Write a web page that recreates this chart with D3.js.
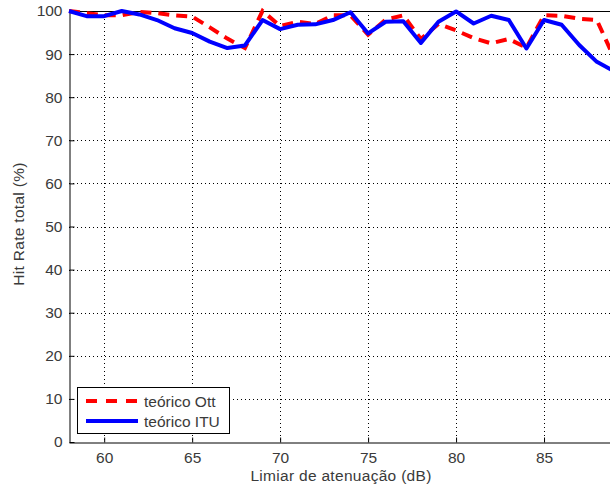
<!DOCTYPE html>
<html><head><meta charset="utf-8">
<script src="https://cdn.jsdelivr.net/npm/d3@7"></script>
<style>body{margin:0;background:#fff}svg{display:block}</style>
</head><body><svg id="c" width="610" height="493"></svg>
<script>
const xValues = [58,59,60,61,62,63,64,65,66,67,68,69,70,71,72,73,74,75,76,77,78,79,80,81,82,83,84,85,86,87,88,89];
const ottValues = [100,99.5,99,99,99.8,99.5,99,98.7,96.2,93.6,91.4,100,96.5,97.5,97,99,99,94.5,98,99,93.5,97,95.5,93.7,92.5,93.5,91.5,99,98.9,98.2,97.9,89];
const ituValues = [100,98.8,98.8,100,99.2,97.9,96,94.9,92.9,91.4,92,97.9,95.8,96.8,96.9,97.9,99.7,94.8,97.5,97.6,92.6,97.5,99.9,97.1,98.9,97.9,91.3,97.9,96.8,92.1,88.2,86];
const xTicks = [60,65,70,75,80,85];
const yTicks = [0,10,20,30,40,50,60,70,80,90,100];
const seriesNames = ["teórico Ott","teórico ITU"];

(function(){
const svg = d3.select("#c");
const L=69, T=11, B=442, R=632;
const x = d3.scaleLinear().domain([58,90]).range([L,R]);
const y = d3.scaleLinear().domain([0,100]).range([B,T]);
const font = "Liberation Sans, Arial, sans-serif";
const fs = 15.5, tc = "#3a3a3a";

const g = svg.append("g");
g.selectAll(".gx").data(xTicks).enter().append("line")
  .attr("x1",d=>Math.round(x(d))+0.5).attr("x2",d=>Math.round(x(d))+0.5)
  .attr("y1",T).attr("y2",B)
  .attr("stroke","#000").attr("stroke-width",1).attr("stroke-dasharray","1,3");
g.selectAll(".gy").data(yTicks.filter(d=>d>0&&d<100)).enter().append("line")
  .attr("y1",d=>Math.round(y(d))+0.5).attr("y2",d=>Math.round(y(d))+0.5)
  .attr("x1",L).attr("x2",R)
  .attr("stroke","#000").attr("stroke-width",1).attr("stroke-dasharray","1,3");

const xAxis = d3.axisBottom(x).tickValues(xTicks).tickSizeInner(-5).tickSizeOuter(0).tickPadding(9);
const yAxis = d3.axisLeft(y).tickValues(yTicks).tickSizeInner(-5).tickSizeOuter(0).tickPadding(7);
const ax = svg.append("g").attr("transform",`translate(0,${B+0.5})`).call(xAxis);
const ay = svg.append("g").attr("transform",`translate(${L+0.5},0)`).call(yAxis);
[ax,ay].forEach(a=>{
  a.selectAll("path").attr("stroke","#000");
  a.selectAll("line").attr("stroke","#000");
  a.selectAll("text").attr("font-family",font).attr("font-size",fs).attr("fill",tc);
});
svg.append("line").attr("x1",L).attr("x2",R).attr("y1",T+0.5).attr("y2",T+0.5).attr("stroke","#000");

const line = d3.line().x((d,i)=>x(xValues[i])).y(d=>y(d));
svg.append("path").datum(ottValues).attr("d",line).attr("fill","none")
  .attr("stroke","#ff0000").attr("stroke-width",4).attr("stroke-dasharray","11,7");
svg.append("path").datum(ituValues).attr("d",line).attr("fill","none")
  .attr("stroke","#0000ff").attr("stroke-width",4).attr("stroke-linejoin","round");

svg.append("text").attr("x",341).attr("y",481).attr("text-anchor","middle")
  .attr("font-family",font).attr("font-size",fs).attr("letter-spacing",0.3).attr("fill",tc).text("Limiar de atenuação (dB)");
svg.append("text").attr("transform","translate(24,224) rotate(-90)").attr("text-anchor","middle")
  .attr("font-family",font).attr("font-size",fs).attr("letter-spacing",0.3).attr("fill",tc).text("Hit Rate total (%)");

const lg = svg.append("g");
lg.append("rect").attr("x",77.5).attr("y",387.5).attr("width",152).attr("height",46)
  .attr("fill","#fff").attr("stroke","#000");
const colors=["#ff0000","#0000ff"], dashes=["11,9",null];
seriesNames.forEach((n,i)=>{
  const yy=401+i*20;
  lg.append("line").attr("x1",86).attr("x2",138).attr("y1",yy).attr("y2",yy)
    .attr("stroke",colors[i]).attr("stroke-width",4).attr("stroke-dasharray",dashes[i]);
  lg.append("text").attr("x",144).attr("y",yy+5.5).attr("font-family",font).attr("font-size",fs)
    .attr("fill",tc).text(n);
});
})();
</script></body></html>
